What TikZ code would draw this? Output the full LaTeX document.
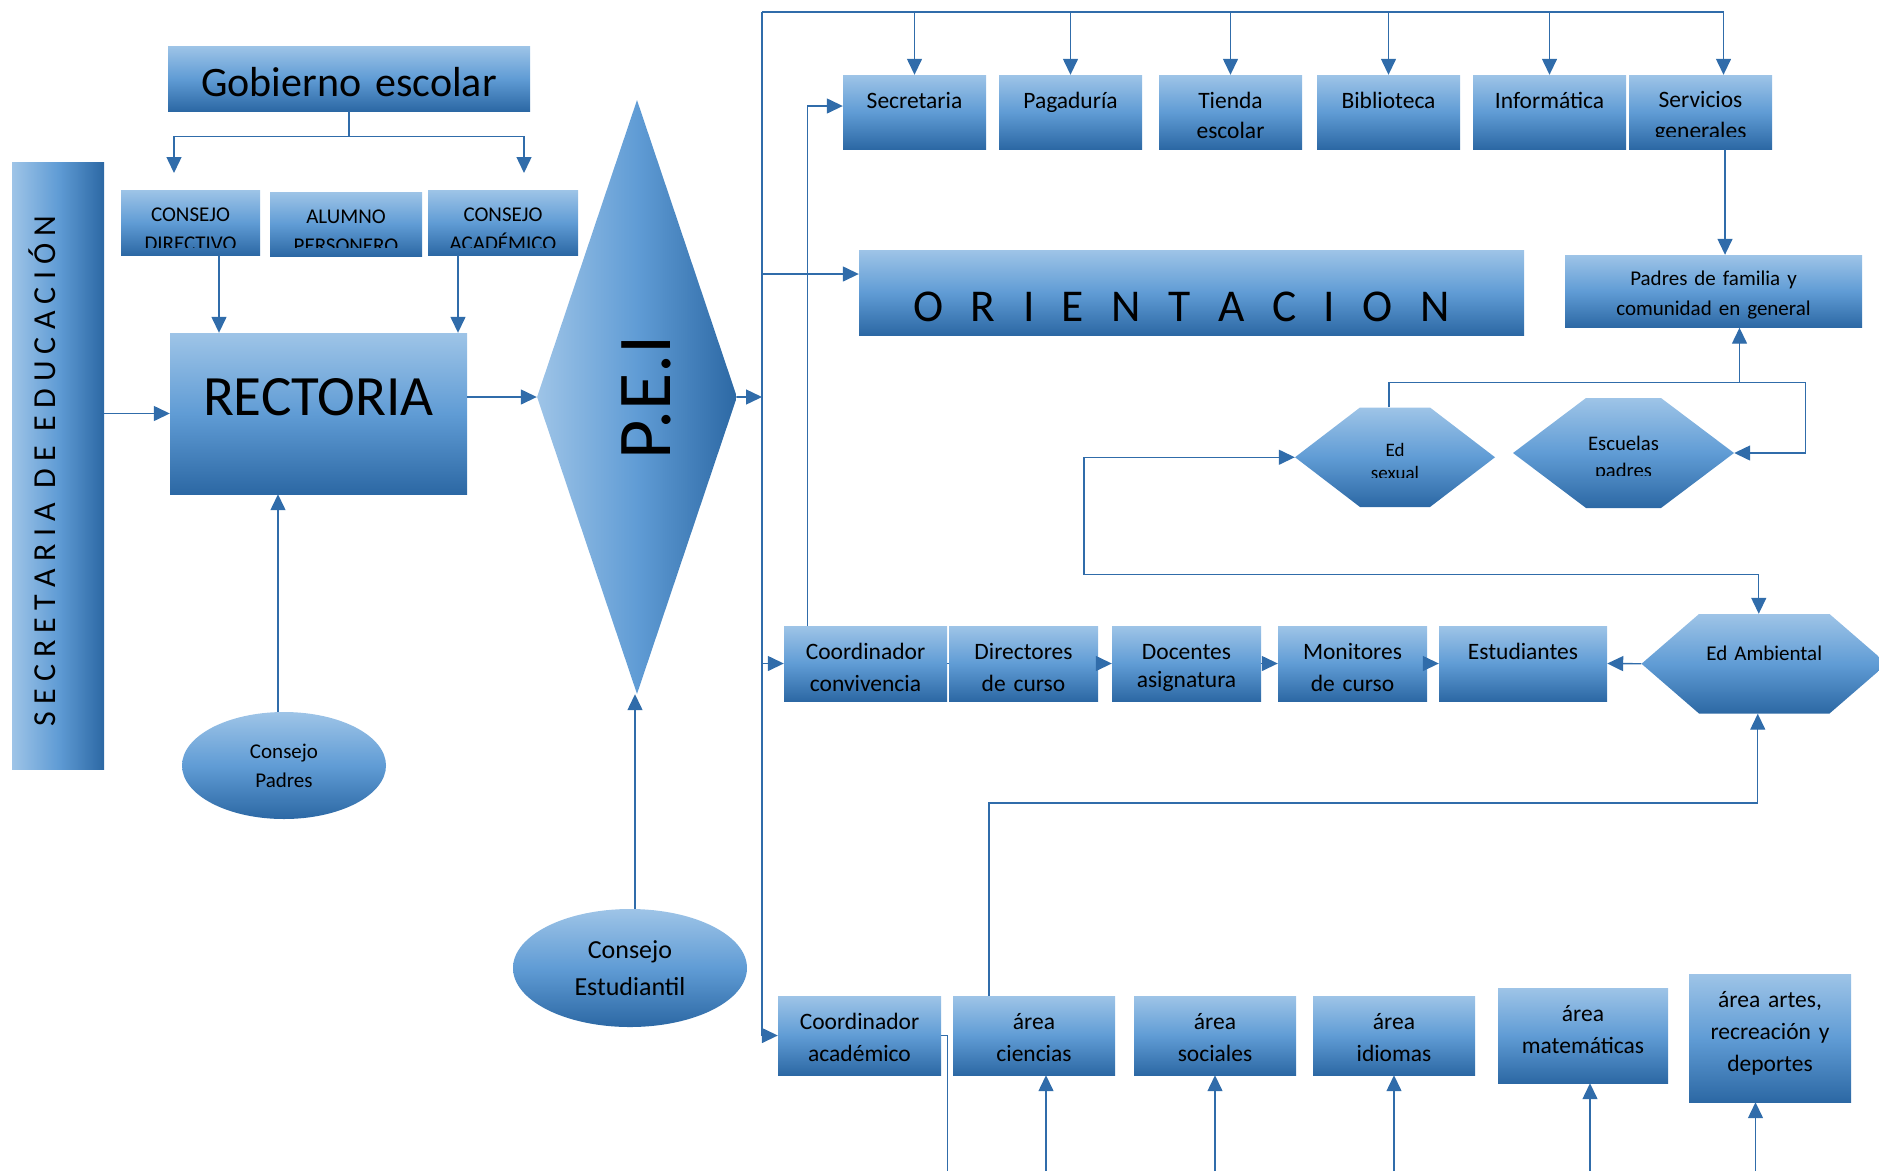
\documentclass[tikz,border=0pt]{standalone}
\usepackage{fontspec}
\setmainfont{Carlito}
\usetikzlibrary{shapes.geometric,arrows.meta}
\definecolor{azulclaro}{RGB}{158,196,231}
\definecolor{azulmedio}{RGB}{96,156,213}
\definecolor{azuloscuro}{RGB}{44,104,164}
\definecolor{azulinea}{RGB}{48,108,170}
\begin{document}
\begin{tikzpicture}[x=1pt,y=-1pt,
		caja/.style={rectangle, inner sep=0pt, align=center, text height=33pt,
			top color=azulclaro, bottom color=azuloscuro, middle color=azulmedio,
			font=\fontsize{23.5}{32}\selectfont},
		ovalo/.style={ellipse, inner sep=0pt, align=center,
			top color=azulclaro, bottom color=azuloscuro, middle color=azulmedio},
		hexa/.style={rectangle, inner sep=0pt, align=center, path picture={
			\shade[top color=azulclaro, bottom color=azuloscuro, middle color=azulmedio]
			(path picture bounding box.west) -- ([xshift=#1]path picture bounding box.north west)
			-- ([xshift=-#1]path picture bounding box.north east) -- (path picture bounding box.east)
			-- ([xshift=-#1]path picture bounding box.south east) -- ([xshift=#1]path picture bounding box.south west) -- cycle;}},
		rotulo/.style={anchor=base, inner sep=0pt, align=center},
		conector/.style={draw=azulinea, line width=1.4pt},
		flecha/.style={conector, -{Triangle[length=16pt,width=15pt]}},
		doble/.style={conector, {Triangle[length=16pt,width=15pt]}-{Triangle[length=16pt,width=15pt]}}]
		\useasboundingbox (0,0) rectangle (1879,1171);
		%% Gobierno, rectoria y P.E.I
		\node[caja, text width=362pt, text height=50pt, text depth=15pt, font=\fontsize{42}{50}\selectfont] (gob) at (349,78.5) {Gobierno escolar};
		\node[caja, minimum width=139pt, minimum height=65pt] (condir) at (190.5,222.5) {};
		\node[caja, minimum width=152pt, minimum height=64pt] (person) at (346,224) {};
		\node[caja, minimum width=150pt, minimum height=65pt] (conacad) at (503,222.5) {};
		\node[caja, text width=297pt, text height=82pt, text depth=79pt, font=\fontsize{57}{68}\selectfont] (rect) at (318.5,413.5) {RECTORIA};
		\node[rectangle, inner sep=0pt, minimum width=92pt, minimum height=607pt,
			left color=azulclaro, right color=azuloscuro, middle color=azulmedio,
			label={[xshift=-15.5pt, yshift=-5.5pt, rotate=90, font=\fontsize{32}{38}\selectfont]center:S E C R E T A R I A\ \ D E\ \ E D U C A C I Ó N}] (sed) at (58,465.5) {};
		\node[diamond, inner sep=0pt, minimum width=200pt, minimum height=594pt,
			left color=azulclaro, right color=azuloscuro, middle color=azulmedio,
			label={[xshift=9.5pt, rotate=90, font=\fontsize{76}{86}\selectfont]center:P.E.I}] (pei) at (637,397) {};
		\node[ovalo, minimum width=204pt, minimum height=107pt, font=\fontsize{21}{29}\selectfont] (cpad) at (284,765.5) {Consejo\\Padres};
		\node[ovalo, minimum width=234pt, minimum height=118pt, font=\fontsize{26}{36.5}\selectfont] (cest) at (630,968) {Consejo\\Estudiantil};
		%% fila de arriba
		\node[caja, text width=143pt, text depth=41pt] (secre) at (914.5,112) {Secretaria};
		\node[caja, text width=143pt, text depth=41pt] (pagad) at (1070.5,112) {Pagaduría};
		\node[caja, text width=143pt, text depth=41pt, font=\fontsize{23.5}{30}\selectfont] (tienda) at (1230.5,112) {Tienda\\escolar};
		\node[caja, text width=143pt, text depth=41pt] (biblio) at (1388.5,112) {Biblioteca};
		\node[caja, text width=153pt, text depth=41pt] (infor) at (1549.5,112) {Informática};
		\node[caja, minimum width=143pt, minimum height=74pt] (servi) at (1700.5,112) {};
		\node[caja, text width=665pt, text height=71pt, text depth=14pt, font=\fontsize{45.5}{55}\selectfont] (orient) at (1191.5,292.5) {\spaceskip=27.5pt \hspace*{-20pt}O R I E N T A C I O N};
		\node[caja, text width=297pt, text height=30pt, text depth=42.5pt, font=\fontsize{21}{30}\selectfont] (padres) at (1713.5,291.25) {Padres de familia y\\comunidad en general};
		\node[hexa=65pt, minimum width=200pt, minimum height=99.5pt] (edsex) at (1395,457.25) {};
		\node[hexa=73pt, minimum width=221pt, minimum height=110pt] (escuelas) at (1623.5,453) {};
		%% fila del medio
		\node[caja, text width=163pt, text depth=42pt] (coconv) at (865.5,663.5) {Coordinador\\convivencia};
		\node[caja, text width=149pt, text depth=42pt] (direc) at (1023.5,663.5) {Directores\\de curso};
		\node[caja, text width=149pt, text depth=42pt, font=\fontsize{23.5}{28}\selectfont] (docen) at (1186.5,663.5) {Docentes\\asignatura};
		\node[caja, text width=149pt, text depth=42pt] (monit) at (1352.5,663.5) {Monitores\\de curso};
		\node[caja, text width=168pt, text depth=42pt] (estud) at (1523,663.5) {Estudiantes};
		\node[hexa=57.5pt, text width=245.5pt, text height=46.5pt, text depth=53pt, font=\fontsize{21}{28}\selectfont] (edamb) at (1764.25,663.75) {Ed Ambiental};
		%% fila de abajo
		\node[caja, text width=163pt, text depth=46pt] (coacad) at (859.5,1035.5) {Coordinador\\académico};
		\node[caja, text width=162pt, text depth=46pt] (aciencias) at (1034,1035.5) {área\\ciencias};
		\node[caja, text width=162pt, text depth=46pt] (asociales) at (1215,1035.5) {área\\sociales};
		\node[caja, text width=162pt, text depth=46pt] (aidiomas) at (1394,1035.5) {área\\idiomas};
		\node[caja, text width=170pt, text depth=62pt] (amate) at (1583,1035.5) {área\\matemáticas};
		\node[caja, text width=162pt, text depth=95pt] (aartes) at (1770,1038) {área artes,\\recreación y\\deportes};
		%% textos cortados
		\begin{scope}
			\clip (condir.north west) rectangle ([yshift=8pt]condir.south east)
				(person.north west) rectangle ([yshift=9pt]person.south east)
				(conacad.north west) rectangle ([yshift=8pt]conacad.south east)
				(servi.north west) rectangle ([yshift=13pt]servi.south east)
				(edsex.north west) rectangle ([yshift=30pt]edsex.south east)
				(escuelas.north west) rectangle ([yshift=33pt]escuelas.south east);
			\node[rotulo, text width=139pt, font=\fontsize{21}{29}\selectfont] (tdir) at (190.5,221.6) {CONSEJO\\DIRECTIVO};
			\node[rotulo, text width=152pt, font=\fontsize{21}{29}\selectfont] (tpers) at (346,223.5) {ALUMNO\\PERSONERO};
			\node[rotulo, text width=150pt, font=\fontsize{21}{29}\selectfont] (tacad) at (503,221.6) {CONSEJO\\ACADÉMICO};
			\node[rotulo, text width=143pt, font=\fontsize{23.5}{31}\selectfont] (tserv) at (1700.5,107) {Servicios\\generales};
			\node[rotulo, text width=200pt, font=\fontsize{19}{23}\selectfont] (tsex) at (1395,456) {Ed\\sexual};
			\node[rotulo, text width=221pt, font=\fontsize{20.7}{27}\selectfont] (tesc) at (1623.5,450) {Escuelas\\padres};
		\end{scope}
		%% puntos sueltos
		\coordinate (tope) at (762,12);
		\coordinate (piso) at (762,1171);
		\coordinate (gizq) at (174,173);
		\coordinate (gder) at (524,173);
		\coordinate (union) at (1739.5,382.7);
		%% conectores de la izquierda
		\draw[flecha] (gob.south) -- ++(0,25) -| (gizq);
		\draw[flecha] (gob.south) ++(0,25) -| (gder);
		\draw[flecha] ([xshift=28.5pt]condir.south) -- ([xshift=28.5pt]condir.south |- rect.north);
		\draw[flecha] ([xshift=-45pt]conacad.south) -- ([xshift=-45pt]conacad.south |- rect.north);
		\draw[flecha] (sed.east |- rect.west) -- (rect.west);
		\draw[flecha] (rect.east |- pei.west) -- (pei.west);
		\draw[flecha] ([xshift=-6pt]cpad.north) -- ([xshift=-6pt]cpad.north |- rect.south);
		\draw[flecha] ([xshift=5pt]cest.north) -- ([xshift=5pt]cest.north |- pei.south);
		\draw[flecha] (pei.east) -- (pei.east -| tope);
		%% linea principal
		\draw[flecha] (tope) -- (tope |- coacad.west) -- (coacad.west);
		\draw[flecha] (tope) -| ([xshift=23pt]servi.north);
		\foreach \n in {secre, pagad, tienda, biblio, infor}
			\draw[flecha] (\n.north |- tope) -- (\n.north);
		\draw[flecha] ([yshift=18.5pt]orient.west -| tope) -- ([yshift=18.5pt]orient.west);
		\draw[flecha] (tope |- coconv.west) -- (coconv.west);
		\draw[flecha] ([xshift=23.5pt]coconv.north west) |- ([yshift=6pt]secre.west);
		%% fila del medio
		\draw[conector] (coconv.east) -- (direc.west);
		\foreach \a/\b in {direc/docen, docen/monit, monit/estud}
			\draw[flecha] (\a.east) -- (\b.west);
		\draw[flecha] (edamb.west) -- (estud.east);
		%% orientacion y padres
		\draw[flecha] ([xshift=24.5pt]servi.south) -- ([xshift=24.5pt]servi.south |- padres.north);
		\draw[conector] ([xshift=-6pt]edsex.north) |- (union);
		\draw[flecha] (union) -- (union |- padres.south);
		\draw[flecha] (union) -- ++(66,0) |- (escuelas.east);
		\draw[doble] (edsex.west) -- ++(-211,0) -- ++(0,117) -| ([xshift=-5.5pt]edamb.north);
		%% fila de abajo
		\draw[flecha] ([xshift=-45pt]aciencias.north) -- ++(0,-193) -| ([xshift=-6.5pt]edamb.south);
		\draw[conector] (coacad.east) -- ++(6,0) -- ([xshift=6pt]coacad.east |- piso);
		\draw[flecha] ([xshift=12pt]aciencias.south |- piso) -- ([xshift=12pt]aciencias.south);
		\foreach \n in {asociales, aidiomas}
			\draw[flecha] (\n.south |- piso) -- (\n.south);
		\draw[flecha] ([xshift=7pt]amate.south |- piso) -- ([xshift=7pt]amate.south);
		\draw[flecha] ([xshift=-14.5pt]aartes.south |- piso) -- ([xshift=-14.5pt]aartes.south);
	\end{tikzpicture}
\end{document}
